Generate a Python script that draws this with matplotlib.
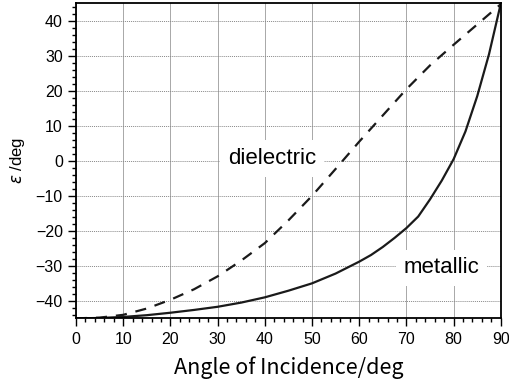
import matplotlib
matplotlib.use("Agg")
import matplotlib.pyplot as plt
from matplotlib.ticker import MultipleLocator

# angle of incidence (deg) vs ellipticity (deg)
angle_d = [0, 5, 10, 15, 20, 25, 30, 35, 40, 45, 50, 55, 60, 65, 70, 75, 80, 85, 90]
dielectric = [-45, -44.8, -44, -42.2, -39.7, -36.7, -33, -28.5, -23.5, -17, -10,
              -2.3, 5.5, 13, 20.5, 27.3, 33.2, 39, 44.8]

angle_m = [0, 5, 10, 15, 20, 25, 30, 35, 40, 45, 50, 55, 60, 62.5, 65, 67.5, 70,
           72.5, 75, 77.5, 80, 82.5, 85, 87.5, 90]
metallic = [-45, -44.9, -44.6, -44.1, -43.4, -42.6, -41.7, -40.5, -39, -37.1, -35,
            -32.2, -28.8, -26.9, -24.6, -22.0, -19.2, -15.9, -11.0, -5.6, 0.5,
            8.4, 18.5, 30.5, 45]

xticks = list(range(0, 91, 10))
yticks = list(range(-40, 41, 10))

tick_font = "Liberation Sans"
label_font = ["Noto Sans CJK JP", "DejaVu Sans"]

fig = plt.figure(figsize=(5.1, 3.84), dpi=100)
ax = fig.add_axes([0.149, 0.171, 0.833, 0.820])

ax.plot(angle_d, dielectric, color="#1a1a1a", lw=1.6, dashes=(5, 4))
ax.plot(angle_m, metallic, color="#1a1a1a", lw=1.6)

ax.set_xlim(0, 90)
ax.set_ylim(-45, 45)
ax.set_xticks(xticks)
ax.set_yticks(yticks)
ax.xaxis.set_minor_locator(MultipleLocator(2))
ax.yaxis.set_minor_locator(MultipleLocator(2))

# grid: solid verticals, dotted horizontals
ax.grid(axis="x", color="#a8a8a8", lw=0.7, ls="-")
ax.grid(axis="y", color="#888888", lw=0.7, ls=(0, (1, 1)))
ax.set_axisbelow(True)

ax.tick_params(which="major", direction="out", length=5.5, width=1, labelsize=11.5,
               top=False, right=False, pad=4)
ax.tick_params(which="minor", direction="out", length=3, width=1,
               top=False, right=False)
for lbl in ax.get_xticklabels() + ax.get_yticklabels():
    lbl.set_family(tick_font)
for sp in ax.spines.values():
    sp.set_linewidth(1.3)

ax.set_xlabel("Angle of Incidence/deg", fontsize=15.5, family=label_font, labelpad=7)
ax.set_ylabel(r"$\varepsilon$ /deg", fontsize=12, family=tick_font, labelpad=6)

box = dict(facecolor="white", edgecolor="none", boxstyle="square,pad=0.35")
ax.text(41.6, 0.7, "dielectric", fontsize=16, family=tick_font,
        ha="center", va="center", bbox=box)
ax.text(77.4, -30.6, "metallic", fontsize=16, family=tick_font,
        ha="center", va="center", bbox=box)

fig.savefig("out.png", dpi=100)
